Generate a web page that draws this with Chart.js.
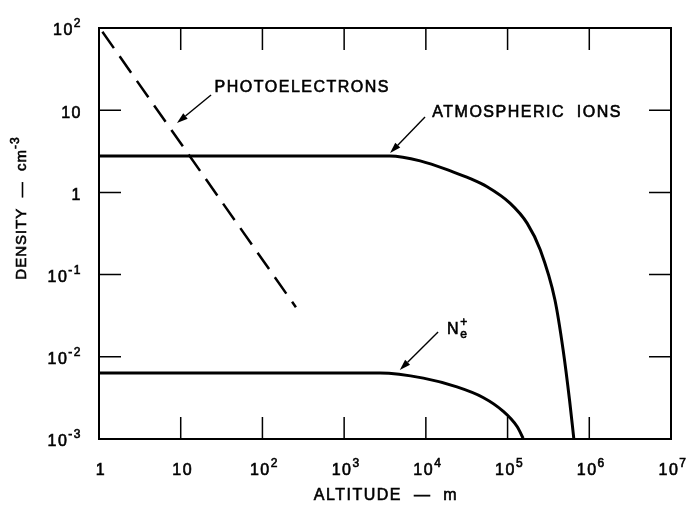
<!DOCTYPE html>
<html>
<head>
<meta charset="utf-8">
<script src="https://cdn.jsdelivr.net/npm/chart.js@4.4.1/dist/chart.umd.min.js"></script>
<style>
html,body{margin:0;padding:0;background:#fff}
#wrap{width:700px;height:512px}
</style>
</head>
<body>
<div id="wrap"><canvas id="chart" width="700" height="512"></canvas></div>
<script>
// values
const ionAlt = [1, 3630, 8510, 21400, 35000, 56200, 107000, 174000, 251000, 380000, 479000, 575000, 646000];
const ionDens = [2.77, 2.77, 2.42, 1.78, 1.47, 1.17, 0.74, 0.42, 0.20, 0.049, 0.012, 0.0029, 0.00102];
const neAlt = [1, 2750, 9330, 24000, 50100, 87100, 132000, 155000];
const neDens = [0.00635, 0.00635, 0.0055, 0.0043, 0.0032, 0.0022, 0.0014, 0.00102];
const photoAlt = [1.1, 257];
const photoDens = [90, 0.04];

const xTickValues = [1, 10, 1e2, 1e3, 1e4, 1e5, 1e6, 1e7];
const xTickLabels = ['1', '10', '10^2', '10^3', '10^4', '10^5', '10^6', '10^7'];
const yTickValues = [1e-3, 1e-2, 1e-1, 1, 10, 1e2];
const yTickLabels = ['10^-3', '10^-2', '10^-1', '1', '10', '10^2'];

const xTitle = 'ALTITUDE  —  m';
const yTitle = 'DENSITY  —  cm^-3';

// annotation labels and arrows, in data units
const notes = [
    {text: 'PHOTOELECTRONS', at: [26, 18.6], from: [23.5, 15.3], to: [9.0, 6.98]},
    {text: 'ATMOSPHERIC  IONS', at: [12000, 9.25], from: [9770, 8.26], to: [3650, 3.01]},
    {text: 'N_e^+', at: [18200, 0.0212], from: [14100, 0.020], to: [4800, 0.0069]}
];

const FONT = '"Liberation Sans", Arial, sans-serif';

function pts(xs, ys){
    return xs.map((x, i) => ({x: x, y: ys[i]}));
}

function put(ctx, s, x, y){
    ctx.fillText(s, x, y);
    ctx.strokeText(s, x, y);
}

// draws "10^2" style text, align: 'left' | 'center' | 'right'
function supText(ctx, str, x, y, size, align, spacing){
    let base = str, sup = '', sub = '';
    const ci = str.indexOf('^');
    if(ci >= 0){ base = str.slice(0, ci); sup = str.slice(ci + 1); }
    const si = base.indexOf('_');
    if(si >= 0){ sub = base.slice(si + 1); base = base.slice(0, si); }
    const ss = Math.round(size * 0.78);
    ctx.letterSpacing = (spacing || 0) + 'px';
    ctx.font = size + 'px ' + FONT;
    const wb = ctx.measureText(base).width;
    ctx.font = ss + 'px ' + FONT;
    const ws = Math.max(ctx.measureText(sup).width, ctx.measureText(sub).width);
    const w = wb + ws;
    let x0 = x;
    if(align === 'center') x0 = x - w / 2;
    if(align === 'right') x0 = x - w;
    ctx.textAlign = 'left';
    ctx.textBaseline = 'middle';
    ctx.lineWidth = 0.6;
    ctx.font = size + 'px ' + FONT;
    put(ctx, base, x0, y);
    ctx.font = ss + 'px ' + FONT;
    if(sup) put(ctx, sup, x0 + wb, y - size * 0.45);
    if(sub) put(ctx, sub, x0 + wb, y + size * 0.3);
    ctx.letterSpacing = '0px';
}

const framePlugin = {
    id: 'frame',
    afterDatasetsDraw(chart){
        const ctx = chart.ctx;
        const a = chart.chartArea;
        const xs = chart.scales.x, ys = chart.scales.y;
        ctx.save();
        ctx.strokeStyle = '#000';
        ctx.fillStyle = '#000';
        ctx.lineWidth = 2;
        ctx.strokeRect(a.left, a.top, a.right - a.left, a.bottom - a.top);

        // inward ticks on all four sides
        ctx.lineWidth = 1.5;
        const tl = 22;
        ctx.beginPath();
        xTickValues.forEach(v => {
            const px = xs.getPixelForValue(v);
            if(px <= a.left + 1 || px >= a.right - 1) return;
            ctx.moveTo(px, a.bottom); ctx.lineTo(px, a.bottom - tl);
            ctx.moveTo(px, a.top); ctx.lineTo(px, a.top + tl);
        });
        yTickValues.forEach(v => {
            const py = ys.getPixelForValue(v);
            if(py <= a.top + 1 || py >= a.bottom - 1) return;
            ctx.moveTo(a.left, py); ctx.lineTo(a.left + tl, py);
            ctx.moveTo(a.right, py); ctx.lineTo(a.right - tl, py);
        });
        ctx.stroke();

        // tick labels
        xTickValues.forEach((v, i) => {
            supText(ctx, xTickLabels[i], xs.getPixelForValue(v) + 2, a.bottom + 32, 16, 'center', 1.5);
        });
        yTickValues.forEach((v, i) => {
            supText(ctx, yTickLabels[i], 82, ys.getPixelForValue(v) + 3, 16, 'right', 1.5);
        });

        // axis titles
        supText(ctx, xTitle, 386, a.bottom + 57, 16, 'center', 1.5);
        ctx.save();
        ctx.translate(22, 208);
        ctx.rotate(-Math.PI / 2);
        supText(ctx, yTitle, 0, 0, 15, 'center', 1);
        ctx.restore();

        // annotations with arrows
        notes.forEach(n => {
            supText(ctx, n.text, xs.getPixelForValue(n.at[0]), ys.getPixelForValue(n.at[1]), 16, 'left', 1.5);
            const x1 = xs.getPixelForValue(n.from[0]), y1 = ys.getPixelForValue(n.from[1]);
            const x2 = xs.getPixelForValue(n.to[0]), y2 = ys.getPixelForValue(n.to[1]);
            const ang = Math.atan2(y2 - y1, x2 - x1);
            const hl = 11, hw = 3.5;
            ctx.lineWidth = 1.4;
            ctx.beginPath();
            ctx.moveTo(x1, y1);
            ctx.lineTo(x2 - hl * Math.cos(ang), y2 - hl * Math.sin(ang));
            ctx.stroke();
            ctx.beginPath();
            ctx.moveTo(x2, y2);
            ctx.lineTo(x2 - hl * Math.cos(ang) + hw * Math.sin(ang), y2 - hl * Math.sin(ang) - hw * Math.cos(ang));
            ctx.lineTo(x2 - hl * Math.cos(ang) - hw * Math.sin(ang), y2 - hl * Math.sin(ang) + hw * Math.cos(ang));
            ctx.closePath();
            ctx.fill();
        });
        ctx.restore();
    }
};

const chart = document.getElementById('chart');
new Chart(chart, {
    type: 'line',
    data: {
        datasets: [
            {
                label: 'Atmospheric ions',
                data: pts(ionAlt, ionDens),
                borderColor: '#000',
                borderWidth: 3,
                pointRadius: 0,
                cubicInterpolationMode: 'monotone'
            },
            {
                label: 'Ne+',
                data: pts(neAlt, neDens),
                borderColor: '#000',
                borderWidth: 3,
                pointRadius: 0,
                cubicInterpolationMode: 'monotone'
            },
            {
                label: 'Photoelectrons',
                data: pts(photoAlt, photoDens),
                borderColor: '#000',
                borderWidth: 2.5,
                borderDash: [20, 10],
                pointRadius: 0
            }
        ]
    },
    options: {
        responsive: false,
        animation: false,
        layout: {padding: {left: 99, right: 29, top: 28, bottom: 73}},
        plugins: {legend: {display: false}, tooltip: {enabled: false}},
        scales: {
            x: {type: 'logarithmic', min: 1, max: 1e7, display: false},
            y: {type: 'logarithmic', min: 1e-3, max: 1e2, display: false}
        }
    },
    plugins: [framePlugin]
});
</script>
</body>
</html>
